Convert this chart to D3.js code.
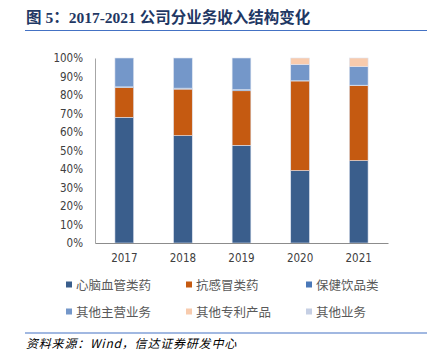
<!DOCTYPE html>
<html>
<head>
<meta charset="utf-8">
<script src="https://cdn.jsdelivr.net/npm/d3@7"></script>
<style>
  body { margin: 0; background: #fff; }
  svg { display: block; font-family: "Liberation Sans", "Noto Sans CJK SC", sans-serif; }
</style>
</head>
<body>
<div id="chart"></div>
<script>
// years on the x axis
const years = ["2017", "2018", "2019", "2020", "2021"];
// revenue share (%) by segment
const cardio   = [67.9, 58.0, 52.8, 39.1, 44.5];
const antiCold = [16.2, 25.2, 29.5, 48.5, 40.7];
const health   = [0.3, 0.5, 0.6, 0.1, 0.1];
const otherMain = [15.6, 16.3, 17.1, 8.8, 10.0];
const patent   = [0, 0, 0, 3.5, 4.7];
const otherBiz = [0, 0, 0, 0, 0];
const yTicks = [0, 10, 20, 30, 40, 50, 60, 70, 80, 90, 100];

const seriesNames = ["心脑血管类药", "抗感冒类药", "保健饮品类", "其他主营业务", "其他专利产品", "其他业务"];
const seriesVals = [cardio, antiCold, health, otherMain, patent, otherBiz];
const colors = ["#3a5e8c", "#c55a11", "#4a78b8", "#7497c9", "#f8cbad", "#c5cfe4"];

const W = 430, H = 354;
const margin = {top: 58, left: 95, right: 42, bottom: 111};
const width = W - margin.left - margin.right;
const height = H - margin.top - margin.bottom;

const svg = d3.select("#chart").append("svg")
    .attr("width", W).attr("height", H);

// title
svg.append("text")
    .attr("x", 26).attr("y", 23)
    .attr("font-family", "'Liberation Serif', 'Noto Sans CJK SC', serif")
    .attr("font-weight", "bold")
    .attr("font-size", 15.5)
    .attr("fill", "#1f3864")
    .text("图 5：2017-2021 公司分业务收入结构变化");
svg.append("line")
    .attr("x1", 25).attr("x2", 427).attr("y1", 30.5).attr("y2", 30.5)
    .attr("stroke", "#4472c4").attr("stroke-width", 1.2);

const g = svg.append("g")
    .attr("transform", "translate(" + margin.left + "," + margin.top + ")");

const x = d3.scaleBand().domain(years).range([0, width]).paddingInner(0.68).paddingOuter(0.34);
const y = d3.scaleLinear().domain([0, 100]).range([height, 0]);

// stack the data
const rows = years.map((yr, i) => {
    let r = {year: yr};
    seriesNames.forEach((s, k) => r[s] = seriesVals[k][i]);
    return r;
});
const stacked = d3.stack().keys(seriesNames)(rows);

g.selectAll(".layer").data(stacked).enter()
    .append("g").attr("class", "layer")
    .attr("fill", (d, i) => colors[i])
    .selectAll("rect").data(d => d).enter()
    .append("rect")
    .attr("x", d => x(d.data.year))
    .attr("width", x.bandwidth())
    .attr("y", d => y(d[1]))
    .attr("height", d => y(d[0]) - y(d[1]))
    .attr("stroke", "#dfe5f1")
    .attr("stroke-width", 0.6);

// y axis
const yAxis = d3.axisLeft(y).tickValues(yTicks).tickFormat(d => d + "%").tickSize(0).tickPadding(12);
const ya = g.append("g").call(yAxis);
ya.select(".domain").attr("stroke", "#a6a6a6");
ya.selectAll("text").attr("font-size", 11.5).attr("fill", "#404040")
    .attr("font-family", "'DejaVu Sans Condensed', 'Liberation Sans', sans-serif");

// x axis
const xAxis = d3.axisBottom(x).tickSize(0).tickPadding(11);
const xa = g.append("g").attr("transform", "translate(0," + height + ")").call(xAxis);
xa.select(".domain").attr("stroke", "#8c8c8c");
xa.selectAll("text").attr("font-size", 11.5).attr("fill", "#404040")
    .attr("font-family", "'DejaVu Sans Condensed', 'Liberation Sans', sans-serif");

// legend
const legend = svg.append("g");
seriesNames.forEach((s, i) => {
    const lx = 66 + (i % 3) * 120;
    const ly = 285 + Math.floor(i / 3) * 27;
    legend.append("rect")
        .attr("x", lx).attr("y", ly - 3.5).attr("width", 6).attr("height", 6)
        .attr("fill", colors[i]);
    legend.append("text")
        .attr("x", lx + 10).attr("y", ly + 4.5)
        .attr("font-size", 12.5)
        .attr("font-family", "'Noto Sans CJK SC', sans-serif")
        .attr("fill", "#595959")
        .text(s);
});

// footer
svg.append("line")
    .attr("x1", 25).attr("x2", 427).attr("y1", 333).attr("y2", 333)
    .attr("stroke", "#4472c4").attr("stroke-width", 1.2);
svg.append("text")
    .attr("x", 26).attr("y", 348)
    .attr("font-size", 12)
    .attr("font-style", "italic")
    .attr("letter-spacing", 0.8)
    .attr("font-family", "'Noto Sans CJK SC', sans-serif")
    .attr("fill", "#000")
    .text("资料来源：Wind，信达证券研发中心");
</script>
</body>
</html>
